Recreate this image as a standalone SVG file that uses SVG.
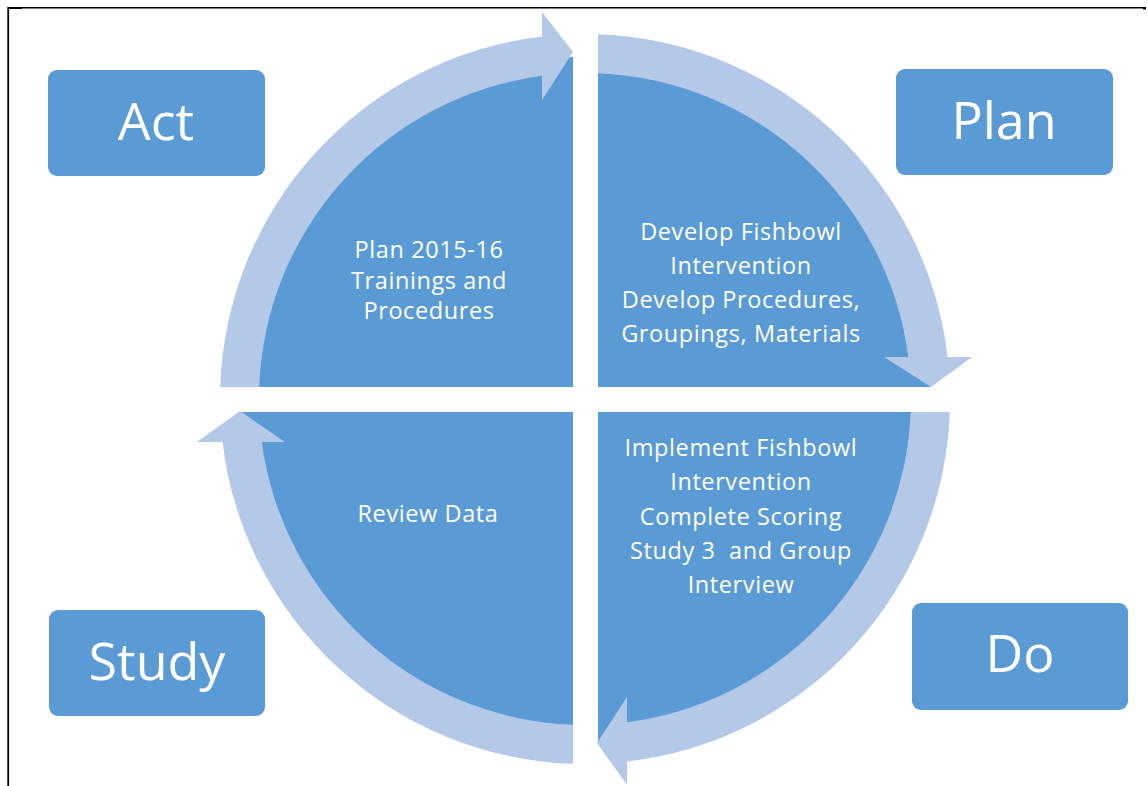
<svg xmlns="http://www.w3.org/2000/svg" width="1148" height="786" viewBox="0 0 1148 786">
<style>
.box{fill:#5B9BD5;}
.quad{fill:#5B9BD5;}
.band{fill:#B4C8E7;}
.big{font-family:"Open Sans","Noto Sans","DejaVu Sans",sans-serif;font-size:52px;fill:#FFFFFF;text-anchor:middle;}
.small{font-family:"Open Sans","Noto Sans","DejaVu Sans",sans-serif;font-size:23.5px;letter-spacing:0.6px;fill:#FFFFFF;text-anchor:middle;white-space:pre;}
.frame{stroke:#000000;fill:none;}
</style>
<rect x="0" y="0" width="1148" height="786" fill="#FFFFFF"/>
<g id="frame">
<line class="frame" x1="8" y1="7.75" x2="1143" y2="7.75" stroke-width="1.5"/>
<line class="frame" x1="8.2" y1="7" x2="8.2" y2="786" stroke-width="1.8"/>
<rect x="8" y="7" width="14" height="2" fill="#000000"/>
<rect x="1143" y="7" width="3" height="2.5" fill="#000000"/>
</g>
<g id="q-act">
<path class="quad" d="M 573,387 L 243,387 A 330 330 0 0 1 573,57 Z"/>
<text class="small" x="429" y="258">Plan 2015-16</text>
<text class="small" x="429" y="289">Trainings and</text>
<text class="small" x="429" y="319">Procedures</text>
</g>
<g id="q-plan">
<path class="quad" d="M 598,387 L 598,57 A 332 332 0 0 1 930,387 Z"/>
<text class="small" x="741" y="240">Develop Fishbowl</text>
<text class="small" x="741" y="274">Intervention</text>
<text class="small" x="741" y="308">Develop Procedures,</text>
<text class="small" x="741" y="342">Groupings, Materials</text>
</g>
<g id="q-do">
<path class="quad" d="M 598,412 L 930,412 A 332 332 0 0 1 598,744 Z"/>
<text class="small" x="741" y="456">Implement Fishbowl</text>
<text class="small" x="741" y="490">Intervention</text>
<text class="small" x="741" y="525">Complete Scoring</text>
<text class="small" x="741" y="559">Study 3  and Group</text>
<text class="small" x="741" y="593">Interview</text>
</g>
<g id="q-study">
<path class="quad" d="M 573,412 L 573,744 A 332 332 0 0 1 241,412 Z"/>
<text class="small" x="428" y="522">Review Data</text>
</g>
<g id="connectors">
<path class="band" d="M 220.2,387 A 365 365 0 0 1 542,36.5 L 542,12 L 573,52 L 542,100 L 542,75.8 A 326 326 0 0 0 259.2,387 Z"/>
<path class="band" d="M 598,34.2 A 365 365 0 0 1 947.6,357 L 972,357 L 931,387 L 884,357 L 908.3,357 A 326 326 0 0 0 598,73.3 Z"/>
<path class="band" d="M 949.8,412 A 365 365 0 0 1 627,761.6 L 627,785 L 597,743 L 627,697 L 627,722.3 A 326 326 0 0 0 910.7,412 Z"/>
<path class="band" d="M 573,763.8 A 365 365 0 0 1 222.5,442 L 197,442 L 240,411 L 285,442 L 261.8,442 A 326 326 0 0 0 573,724.7 Z"/>
</g>
<g id="act">
<rect class="box" x="48" y="70" width="217" height="106" rx="9"/>
<text class="big" x="156" y="140">Act</text>
</g>
<g id="plan">
<rect class="box" x="896" y="69" width="217" height="106" rx="9"/>
<text class="big" x="1004" y="139">Plan</text>
</g>
<g id="study">
<rect class="box" x="49" y="610" width="216" height="106" rx="9"/>
<text class="big" x="157" y="680">Study</text>
</g>
<g id="do">
<rect class="box" x="912" y="603" width="216" height="107" rx="9"/>
<text class="big" x="1020" y="672">Do</text>
</g>
</svg>
